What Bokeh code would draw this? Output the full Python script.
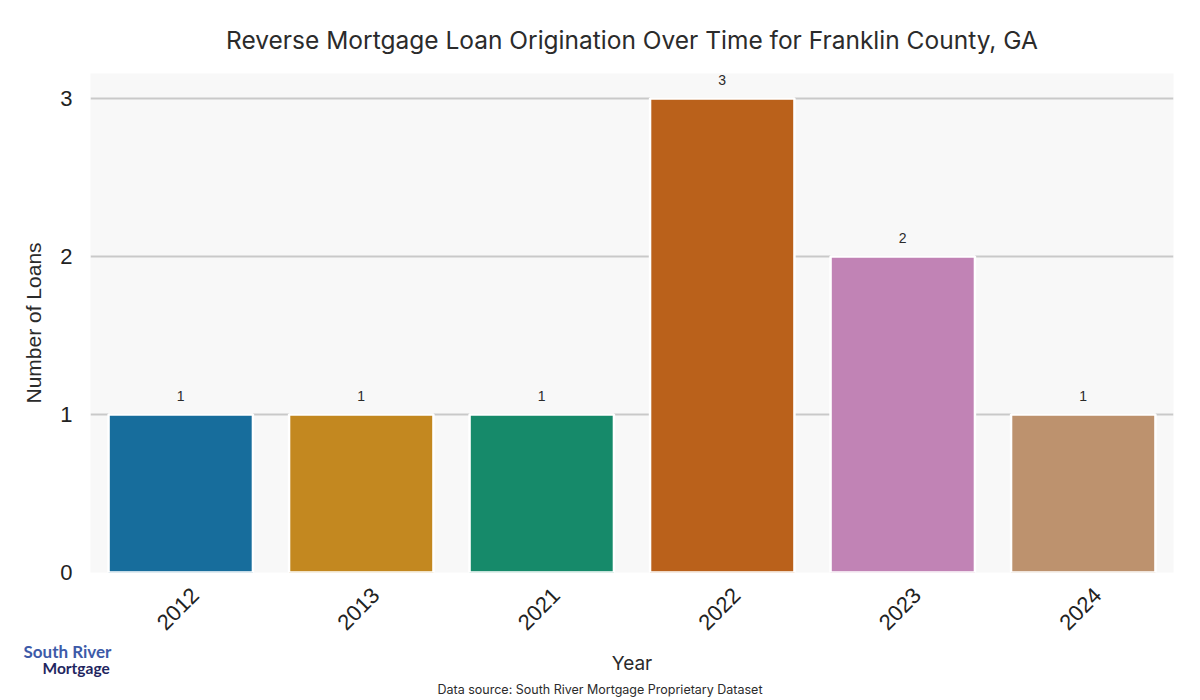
import math
from bokeh.plotting import figure
from bokeh.layouts import column
from bokeh.models import ColumnDataSource, Range1d, FixedTicker, Title
from bokeh.embed import file_html
from bokeh.resources import INLINE
from bokeh.core.properties import value

# ---- data ----
years = ["2012", "2013", "2021", "2022", "2023", "2024"]
loans = [1, 1, 1, 3, 2, 1]
bar_colors = ["#176d9c", "#c38820", "#168a6a", "#ba611b", "#c183b5", "#bd926e"]
y_ticks = [0, 1, 2, 3]

title_text = "Reverse Mortgage Loan Origination Over Time for Franklin County, GA"
x_label = "Year"
y_label = "Number of Loans"
source_note = "Data source: South River Mortgage Proprietary Dataset"
logo_line1 = "South River"
logo_line2 = "Mortgage"

FIG_W, FIG_H = 1200, 700
FRAME_L, FRAME_R, FRAME_T, FRAME_B = 90, 1173, 73, 572

n = len(years)
xpos = [i + 0.5 for i in range(n)]          # category centres
src = ColumnDataSource(dict(x=xpos, year=years, loans=loans, color=bar_colors,
                            label=[str(v) for v in loans]))

p = figure(
    x_range=Range1d(0, n),
    y_range=Range1d(0, 3.158),
    frame_width=FRAME_R - FRAME_L,
    frame_height=FRAME_B - FRAME_T,
    min_border_left=FRAME_L,
    min_border_right=FIG_W - FRAME_R,
    min_border_top=FRAME_T,
    min_border_bottom=FIG_H - FRAME_B,
    output_backend="svg",
    toolbar_location=None,
)
p.background_fill_color = "#f8f8f8"
p.border_fill_color = "white"
p.outline_line_color = None

# title
p.title.text = title_text
p.title.align = "center"
p.title.text_font = "Inter"
p.title.text_font_size = "24.5px"
p.title.text_font_style = "normal"
p.title.text_color = "#2b2b2b"
p.title.standoff = 37

# grid
p.xgrid.grid_line_color = None
p.ygrid.grid_line_color = "#c9c9c9"
p.ygrid.grid_line_width = 2
p.ygrid.ticker = FixedTicker(ticks=y_ticks)

# bars
p.vbar(x="x", top="loans", width=0.8, source=src, fill_color="color",
       line_color="white", line_width=2.5)

# value labels
p.text(x="x", y="loans", text="label", source=src, text_align="center",
       text_baseline="bottom", y_offset=-13, text_font=value("Liberation Sans"),
       text_font_size="14px", text_color="#2b2b2b")

# y axis
ya = p.yaxis[0]
ya.axis_line_color = None
ya.major_tick_line_color = None
ya.minor_tick_line_color = None
ya.major_label_text_font = "Liberation Sans"
ya.major_label_text_font_size = "22px"
ya.major_label_text_color = "#222222"
ya.ticker = FixedTicker(ticks=y_ticks)
ya.major_label_standoff = 12
ya.axis_label = y_label
ya.axis_label_text_font = "Liberation Sans"
ya.axis_label_text_font_style = "normal"
ya.axis_label_text_color = "#2b2b2b"
ya.axis_label_text_font_size = "21px"
ya.axis_label_standoff = 12

# x axis: rotated year labels, nudged so each label is centred under its bar
label_shift = 0.08
tick_pos = [c + label_shift for c in xpos]
xa = p.xaxis[0]
xa.ticker = FixedTicker(ticks=tick_pos)
xa.major_label_overrides = {t: yr for t, yr in zip(tick_pos, years)}
xa.axis_line_color = None
xa.major_tick_line_color = None
xa.minor_tick_line_color = None
xa.major_label_orientation = math.pi / 4
xa.major_label_standoff = 13
xa.major_label_text_font = "Liberation Sans"
xa.major_label_text_font_size = "22px"
xa.major_label_text_color = "#222222"
xa.axis_label = x_label
xa.axis_label_text_font = "Inter"
xa.axis_label_text_font_style = "normal"
xa.axis_label_text_font_size = "19px"
xa.axis_label_text_color = "#2b2b2b"
xa.axis_label_standoff = 12

# transparent overlay carrying the logo text and the source note (bottom panel titles)
ov = figure(width=FIG_W, height=FIG_H, x_range=Range1d(0, 1), y_range=Range1d(0, 1),
            min_border=0, x_axis_location=None, y_axis_location=None,
            output_backend="svg", toolbar_location=None)
ov.grid.visible = False
ov.outline_line_color = None
ov.background_fill_color = None
ov.border_fill_color = None
ov.margin = (-FIG_H, 0, 0, 0)

ov.add_layout(Title(text=logo_line1, align="left", offset=23 - FRAME_L, standoff=-10,
                    text_font="Lato", text_font_style="bold", text_font_size="17px",
                    text_color="#3d5aa8"), "below")
ov.add_layout(Title(text=logo_line2, align="left", offset=42 - FRAME_L, standoff=0,
                    text_font="Lato", text_font_style="bold", text_font_size="15.5px",
                    text_color="#1f2660"), "below")
ov.add_layout(Title(text=source_note, align="left", offset=437 - FRAME_L, standoff=7,
                    text_font="Inter", text_font_style="normal", text_font_size="12.5px",
                    text_color="#2b2b2b"), "below")

layout = column(p, ov)
open("out.html", "w").write(file_html(layout, INLINE))
